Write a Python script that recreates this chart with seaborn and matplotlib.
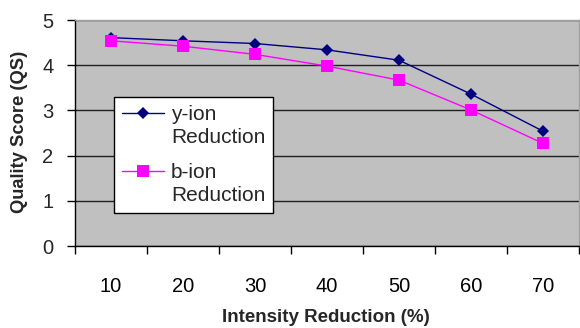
import matplotlib
matplotlib.use("Agg")
import matplotlib.pyplot as plt
import seaborn as sns
import pandas as pd
from matplotlib.ticker import FixedLocator
from matplotlib.legend_handler import HandlerLine2D

reduction = [10, 20, 30, 40, 50, 60, 70]
y_ion = [4.61, 4.54, 4.48, 4.34, 4.11, 3.36, 2.54]
b_ion = [4.54, 4.42, 4.24, 3.98, 3.67, 3.01, 2.27]
series_names = ["y-ion\nReduction", "b-ion\nReduction"]

df = pd.DataFrame({
    "Reduction": reduction * 2,
    "QS": y_ion + b_ion,
    "Series": [series_names[0]] * len(reduction) + [series_names[1]] * len(reduction),
})

sns.set_theme(style="white")
plt.rcParams["font.family"] = ["Liberation Sans", "DejaVu Sans"]

W, H = 580, 328
fig = plt.figure(figsize=(5.8, 3.28), dpi=100)
ax = fig.add_axes([75 / W, (H - 246) / H, 504 / W, 226 / H])
ax.set_facecolor("#C0C0C0")

sns.lineplot(data=df, x="Reduction", y="QS", hue="Series", style="Series",
             palette=["#000080", "#FF00FF"], markers=["D", "s"], dashes=False,
             markersize=7.5, linewidth=1, markeredgewidth=0, ax=ax)
for line in ax.lines:
    if line.get_marker() == "s":
        line.set_markersize(8)
    elif line.get_marker() == "D":
        line.set_markersize(6.5)

ax.set_xlim(5, 75)
ax.set_ylim(0, 5)
ax.set_yticks([0, 1, 2, 3, 4, 5])
ax.yaxis.grid(True, color="#202020", linewidth=1)
ax.set_axisbelow(True)
ax.set_xticks(reduction)
ax.set_xticklabels([str(v) for v in reduction])
ax.xaxis.set_minor_locator(FixedLocator([5, 15, 25, 35, 45, 55, 65, 75]))
ax.tick_params(axis="x", which="major", length=0, pad=22, labelsize=14.5, colors="black")
ax.tick_params(axis="x", which="minor", length=6, width=1, direction="out", color="black", bottom=True)
ax.tick_params(axis="y", length=5.5, width=1, direction="out", color="black", labelsize=14.5, pad=10, left=True)

for s in ["left", "bottom"]:
    ax.spines[s].set_color("black")
    ax.spines[s].set_linewidth(1)
for s in ["top", "right"]:
    ax.spines[s].set_color("#A0A0A0")
    ax.spines[s].set_linewidth(1)

ax.set_xlabel("Intensity Reduction (%)", fontsize=13.5, fontweight="bold")
ax.set_ylabel("Quality Score (QS)", fontsize=13.2, fontweight="bold")
ax.xaxis.set_label_coords((326 - 75) / 504, -(318 - 246) / 226)
ax.yaxis.set_label_coords(-(75 - 20) / 504, (246 - 132) / 226)
ax.xaxis.label.set_va("center")
ax.yaxis.label.set_va("center")


class TopLineHandler(HandlerLine2D):
    def create_artists(self, legend, orig_handle, xdescent, ydescent,
                       width, height, fontsize, trans):
        arts = super().create_artists(legend, orig_handle, xdescent, ydescent,
                                      width, height, fontsize, trans)
        shift = 0.62 * fontsize
        for a in arts:
            a.set_ydata([y + shift for y in a.get_ydata()])
        return arts


handles, labels = ax.get_legend_handles_labels()
leg = ax.legend(handles, labels, loc="upper left",
                bbox_to_anchor=((114 - 75) / 504, (246 - 97) / 226),
                fontsize=15, frameon=True, fancybox=False, handlelength=2.0,
                handletextpad=0.35, borderpad=0.38, labelspacing=0.75, borderaxespad=0,
                handler_map={h: TopLineHandler() for h in handles})
for t in leg.get_texts():
    t.set_linespacing(1.28)
leg.get_frame().set_edgecolor("black")
leg.get_frame().set_linewidth(1)
leg.get_frame().set_facecolor("white")
leg.get_frame().set_alpha(1)

fig.savefig("out.png", dpi=100)
